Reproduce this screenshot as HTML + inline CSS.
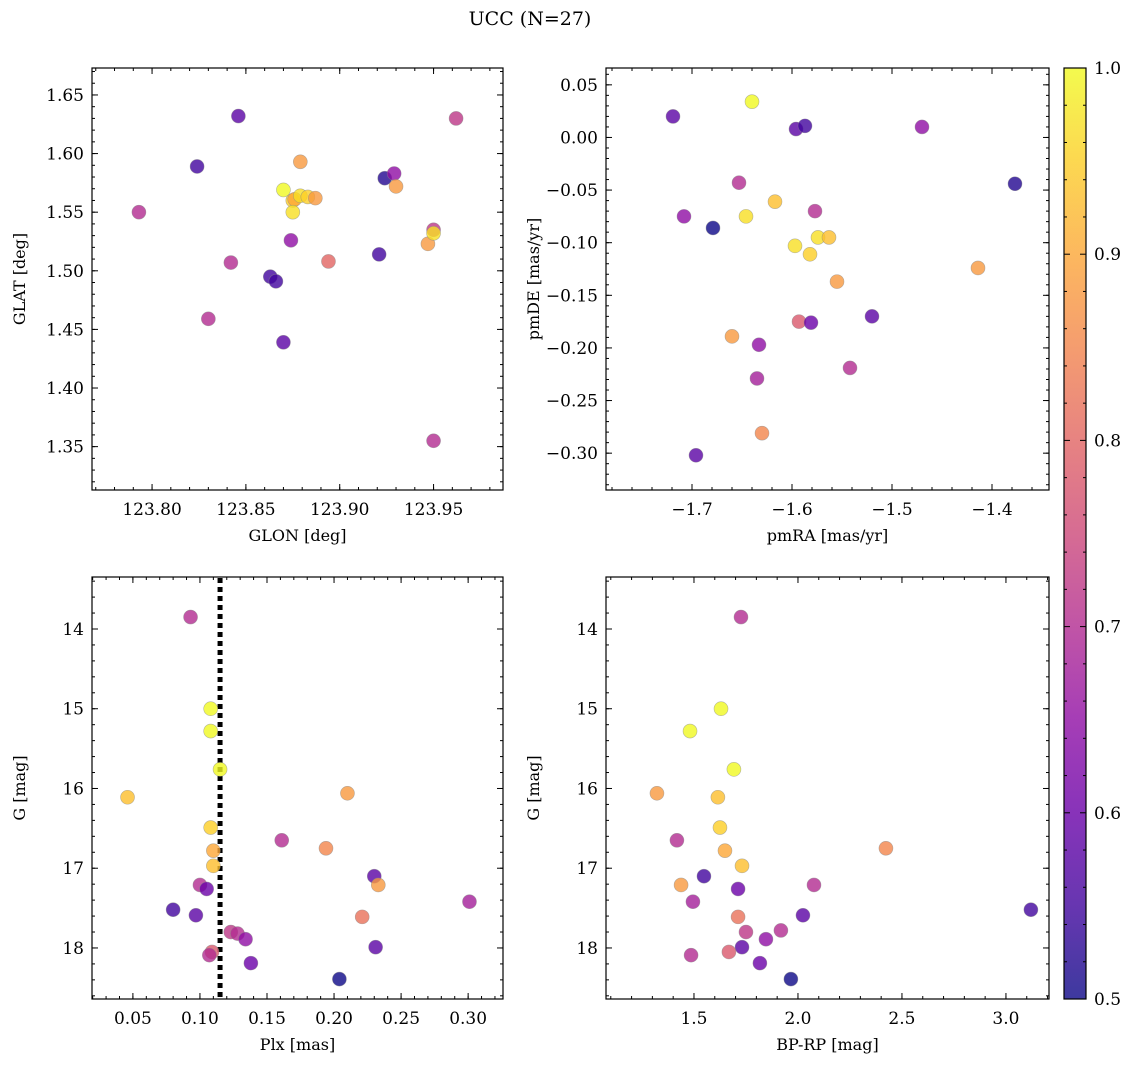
<!DOCTYPE html>
<html><head><meta charset="utf-8"><style>
body{margin:0;background:#fff;}
svg{display:block;font-family:"DejaVu Serif","Liberation Serif",serif;}
</style></head><body>
<svg id="fig" width="1136" height="1067" xmlns="http://www.w3.org/2000/svg">
<defs><linearGradient id="cbg" x1="0" y1="1" x2="0" y2="0">
<stop offset="0" stop-color="#0d0887"/><stop offset="0.1" stop-color="#41049d"/><stop offset="0.2" stop-color="#6a00a8"/><stop offset="0.3" stop-color="#8f0da4"/><stop offset="0.4" stop-color="#b12a90"/><stop offset="0.5" stop-color="#cc4778"/><stop offset="0.6" stop-color="#e16462"/><stop offset="0.7" stop-color="#f2844b"/><stop offset="0.8" stop-color="#fca636"/><stop offset="0.9" stop-color="#fcce25"/><stop offset="1" stop-color="#f0f921"/>
</linearGradient></defs>
<text x="530" y="25" font-size="19" text-anchor="middle">UCC (N=27)</text>
</svg>
<script>
const glon=[123.793,123.824,123.846,123.830,123.842,123.863,123.866,123.870,123.874,123.879,123.870,123.875,123.876,123.875,123.879,123.883,123.887,123.894,123.921,123.924,123.929,123.930,123.947,123.950,123.950,123.962,123.950];
const glat=[1.550,1.589,1.632,1.459,1.507,1.495,1.491,1.439,1.526,1.593,1.569,1.560,1.561,1.550,1.564,1.563,1.562,1.508,1.514,1.579,1.583,1.572,1.523,1.535,1.532,1.630,1.355];
const probTL=[0.7,0.55,0.58,0.7,0.7,0.55,0.55,0.58,0.65,0.88,1.0,0.95,0.9,0.97,0.97,0.95,0.88,0.8,0.55,0.52,0.65,0.88,0.88,0.72,0.97,0.72,0.7];
const pmra=[-1.719,-1.640,-1.596,-1.587,-1.470,-1.377,-1.653,-1.708,-1.679,-1.646,-1.617,-1.577,-1.597,-1.574,-1.563,-1.582,-1.555,-1.414,-1.660,-1.633,-1.593,-1.581,-1.520,-1.542,-1.635,-1.630,-1.696];
const pmde=[0.020,0.034,0.008,0.011,0.010,-0.044,-0.043,-0.075,-0.086,-0.075,-0.061,-0.070,-0.103,-0.095,-0.095,-0.111,-0.137,-0.124,-0.189,-0.197,-0.175,-0.176,-0.170,-0.219,-0.229,-0.281,-0.302];
const probTR=[0.58,1.0,0.58,0.55,0.65,0.52,0.7,0.65,0.5,0.97,0.93,0.7,0.97,0.97,0.93,0.95,0.88,0.88,0.88,0.65,0.78,0.6,0.58,0.7,0.68,0.85,0.58];
const plx=[0.093,0.108,0.108,0.115,0.046,0.210,0.108,0.161,0.194,0.110,0.110,0.230,0.100,0.105,0.233,0.301,0.080,0.097,0.221,0.123,0.128,0.134,0.109,0.107,0.231,0.138,0.204];
const gmagBL=[13.85,15.00,15.28,15.76,16.11,16.06,16.49,16.65,16.75,16.78,16.97,17.10,17.21,17.26,17.21,17.42,17.52,17.59,17.61,17.80,17.82,17.89,18.05,18.09,17.99,18.19,18.39];
const probBL=[0.7,1.0,1.0,1.0,0.93,0.88,0.95,0.7,0.85,0.9,0.93,0.58,0.7,0.6,0.88,0.68,0.55,0.58,0.82,0.72,0.7,0.65,0.78,0.7,0.58,0.6,0.5];
const bprp=[1.726,1.630,1.481,1.692,1.322,1.615,1.418,1.625,1.649,1.731,2.423,1.548,1.438,1.712,2.077,1.495,3.120,2.024,1.712,1.750,1.918,1.846,1.731,1.486,1.668,1.817,1.966];
const gmagBR=[13.85,15.00,15.28,15.76,16.06,16.11,16.65,16.49,16.78,16.97,16.75,17.10,17.21,17.26,17.21,17.42,17.52,17.59,17.61,17.80,17.78,17.89,17.99,18.09,18.05,18.19,18.39];
const probBR=[0.7,1.0,1.0,1.0,0.88,0.93,0.7,0.95,0.9,0.93,0.85,0.55,0.88,0.6,0.7,0.68,0.55,0.58,0.82,0.72,0.7,0.65,0.58,0.7,0.78,0.6,0.5];
const plxLine=0.115;

const NS="http://www.w3.org/2000/svg";
const svg=document.getElementById('fig');
const stops=["#0d0887","#41049d","#6a00a8","#8f0da4","#b12a90","#cc4778","#e16462","#f2844b","#fca636","#fcce25","#f0f921"];
function hex(h){return [1,3,5].map(i=>parseInt(h.substr(i,2),16));}
function plasma(p){let t=Math.max(0,Math.min(1,(p-0.5)/0.5))*10;let i=Math.min(9,Math.floor(t));let f=t-i;let a=hex(stops[i]),b=hex(stops[i+1]);return 'rgb('+a.map((v,k)=>Math.round(v+(b[k]-v)*f)).join(',')+')';}
function mk(tag,attrs,parent){const e=document.createElementNS(NS,tag);for(const k in attrs)e.setAttribute(k,attrs[k]);(parent||svg).appendChild(e);return e;}
function fmt(v,d){let s=v.toFixed(d);if(Math.abs(v)<1e-9)s=(0).toFixed(d);return s.replace('-','\u2212');}

function panel(name,box,xr,yr,xt,yt,xs,ys){
  const [L,T,R,B]=box;
  const g=mk('g',{});
  
  
  const sx=v=>L+(v-xr[0])/(xr[1]-xr[0])*(R-L);
  const sy=v=>B-(v-yr[0])/(yr[1]-yr[0])*(B-T);
  const tg=mk('g',{stroke:'#000','stroke-width':1},g);
  function ticks(lo,hi,step,len,isX,labels,dec){
    const s0=Math.ceil((lo-1e-9)/step);
    for(let k=s0;k*step<=hi+1e-9;k++){const v=k*step;
      if(isX){const x=sx(v);mk('line',{x1:x,x2:x,y1:B,y2:B-len},tg);mk('line',{x1:x,x2:x,y1:T,y2:T+len},tg);
        if(labels){const t=mk('text',{x:x,y:B+25,'font-size':17,'text-anchor':'middle',stroke:'none',fill:'#000'},g);t.textContent=fmt(v,dec);}}
      else{const y=sy(v);mk('line',{x1:L,x2:L+len,y1:y,y2:y},tg);mk('line',{x1:R,x2:R-len,y1:y,y2:y},tg);
        if(labels){const t=mk('text',{x:L-8,y:y+6,'font-size':17,'text-anchor':'end',stroke:'none',fill:'#000'},g);t.textContent=fmt(v,dec);}}
    }
  }
  ticks(xr[0],xr[1],xt[1],3,true,false);ticks(xr[0],xr[1],xt[0],6,true,true,xt[2]);
  const ylo=Math.min(yr[0],yr[1]),yhi=Math.max(yr[0],yr[1]);
  ticks(ylo,yhi,yt[1],3,false,false);ticks(ylo,yhi,yt[0],6,false,true,yt[2]);
  const fr=mk('rect',{x:L,y:T,width:R-L,height:B-T,fill:'none',stroke:'#000','stroke-width':1.2},g);
  
  const xl=mk('text',{x:(L+R)/2,y:B+51,'font-size':16,'text-anchor':'middle'},g);xl.textContent=xs;
  
  const yl=mk('text',{x:0,y:0,'font-size':16,'text-anchor':'middle',transform:'translate('+(L-67)+','+((T+B)/2)+') rotate(-90)'},g);yl.textContent=ys;
  
  return {g,sx,sy};
}
function scatter(P,xs,ys,ps){
  for(let i=0;i<xs.length;i++){
    const c=mk('circle',{cx:P.sx(xs[i]),cy:P.sy(ys[i]),r:7,fill:plasma(ps[i]),'fill-opacity':0.8,stroke:'#888','stroke-opacity':0.6,'stroke-width':0.6},P.g);
    
    
  }
}
const p1=panel('glon-glat-panel',[92,68,503,490],[123.768,123.987],[1.313,1.673],[0.05,0.01,2],[0.05,0.01,2],'GLON [deg]','GLAT [deg]');
scatter(p1,glon,glat,probTL);
const p2=panel('pm-panel',[606,68,1049,490],[-1.786,-1.343],[-0.335,0.066],[0.1,0.02,1],[0.05,0.01,2],'pmRA [mas/yr]','pmDE [mas/yr]');
scatter(p2,pmra,pmde,probTR);
const p3=panel('plx-g-panel',[92,577,503,999],[0.0195,0.326],[18.64,13.348],[0.05,0.01,2],[1,0.2,0],'Plx [mas]','G [mag]');
const vl=mk('line',{x1:p3.sx(plxLine),x2:p3.sx(plxLine),y1:578,y2:998,stroke:'#000','stroke-width':5,'stroke-dasharray':'5,4'},p3.g);

scatter(p3,plx,gmagBL,probBL);
const p4=panel('cmd-panel',[606,577,1049,999],[1.077,3.207],[18.64,13.348],[0.5,0.1,1],[1,0.2,0],'BP-RP [mag]','G [mag]');
scatter(p4,bprp,gmagBR,probBR);
const cb=mk('g',{});


mk('rect',{x:1064,y:68,width:22,height:931,fill:'url(#cbg)','fill-opacity':0.8},cb);
mk('rect',{x:1064,y:68,width:22,height:931,fill:'none',stroke:'#000','stroke-width':1.2},cb);
for(let k=25;k<=50;k++){const v=k/50;const y=999-(v-0.5)/0.5*931;const major=k%5===0;
  mk('line',{x1:1086,x2:1086-(major?6:3),y1:y,y2:y,stroke:'#000'},cb);mk('line',{x1:1064,x2:1064+(major?6:3),y1:y,y2:y,stroke:'#000'},cb);
  if(major){const t=mk('text',{x:1094,y:y+6,'font-size':17},cb);t.textContent=v.toFixed(1);}}
</script>
</body></html>
